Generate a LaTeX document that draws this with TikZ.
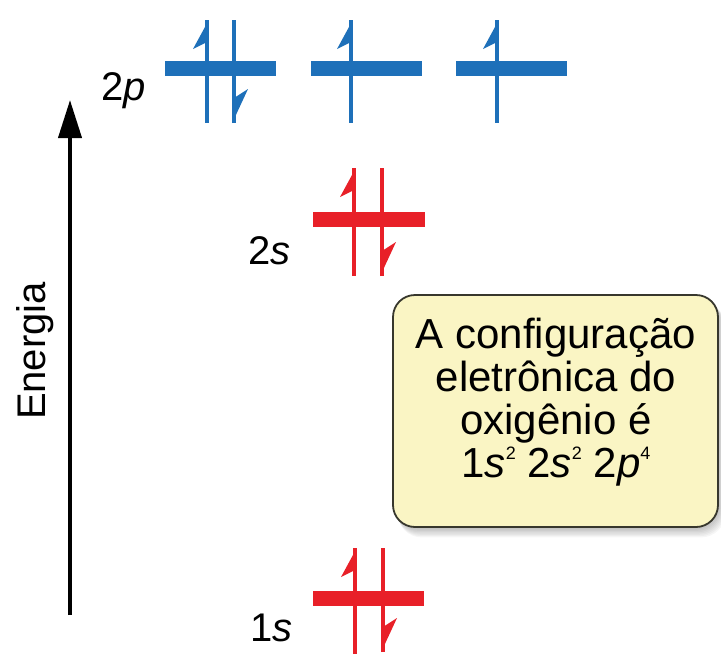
\documentclass[tikz,border=0pt]{standalone}
\usepackage{fontspec}
\setmainfont{Liberation Sans}
\usetikzlibrary{arrows.meta}
\definecolor{orbblue}{RGB}{30,112,185}
\definecolor{orbred}{RGB}{232,32,40}
\definecolor{boxfill}{RGB}{250,245,196}
\definecolor{boxline}{RGB}{55,55,45}
\newcommand\upspin[4]{%
  \draw[#1,spinline] (#2,#3) -- (#2,#4);
  \fill[#1] (#2+1.8,#3) -- (#2-14,#3+29) -- (#2,#3+22) -- cycle;}
\newcommand\downspin[4]{%
  \draw[#1,spinline] (#2,#3) -- (#2,#4);
  \fill[#1] (#2-1.8,#4) -- (#2+14,#4-34) -- (#2,#4-25) -- cycle;}
\newcommand\sps[1]{\raisebox{0.8ex}{\fontsize{18}{18}\selectfont #1}}
\begin{document}
\begin{tikzpicture}[x=1pt,y=-1pt,
  lev/.style={line width=15pt},
  spinline/.style={line width=3.6pt},
  lbl/.style={font=\fontsize{40}{46}\selectfont, inner sep=0pt}]
\useasboundingbox (0,0) rectangle (721,654);
% energy axis
\draw[line width=4pt, -{Triangle[length=38pt,width=23pt]}] (70,615) -- (70,100);
\node[lbl, rotate=90] (en) at (35,351) {Energia};
% 2p
\draw[orbblue,lev] (165,68) -- (276,68);
\draw[orbblue,lev] (311,68) -- (422,68);
\draw[orbblue,lev] (456,68) -- (567,68);
\upspin{orbblue}{207}{20}{123}
\downspin{orbblue}{234}{20}{123}
\upspin{orbblue}{351}{20}{123}
\upspin{orbblue}{497}{20}{123}
\node[lbl, anchor=base east] (l2p) at (146,100) {2\textit{p}};
% 2s
\draw[orbred,lev] (313,219) -- (425,219);
\upspin{orbred}{354}{168}{276}
\downspin{orbred}{382}{168}{276}
\node[lbl, anchor=base east] (l2s) at (291,264) {2\textit{s}};
% 1s
\draw[orbred,lev] (313,598) -- (424,598);
\upspin{orbred}{355}{548}{654}
\downspin{orbred}{383}{548}{652}
\node[lbl, anchor=base east] (l1s) at (293,641) {1\textit{s}};
% box with soft shadow
\foreach \i in {1,...,8}
  \fill[black, opacity=0.035, rounded corners=24pt] (393+\i*0.6,295+\i*0.9) rectangle (718+\i*0.9,527+\i*1.3);
\draw[boxline, line width=1.8pt, fill=boxfill, rounded corners=22pt] (393,295) rectangle (718,527);
\node[align=center, font=\fontsize{42}{43}\selectfont, inner sep=0pt] (txt) at (556,402)
  {A configuração\\eletrônica do\\oxigênio é\\1\textit{s}\sps{2} 2\textit{s}\sps{2} 2\textit{p}\sps{4}};
\end{tikzpicture}
\end{document}
